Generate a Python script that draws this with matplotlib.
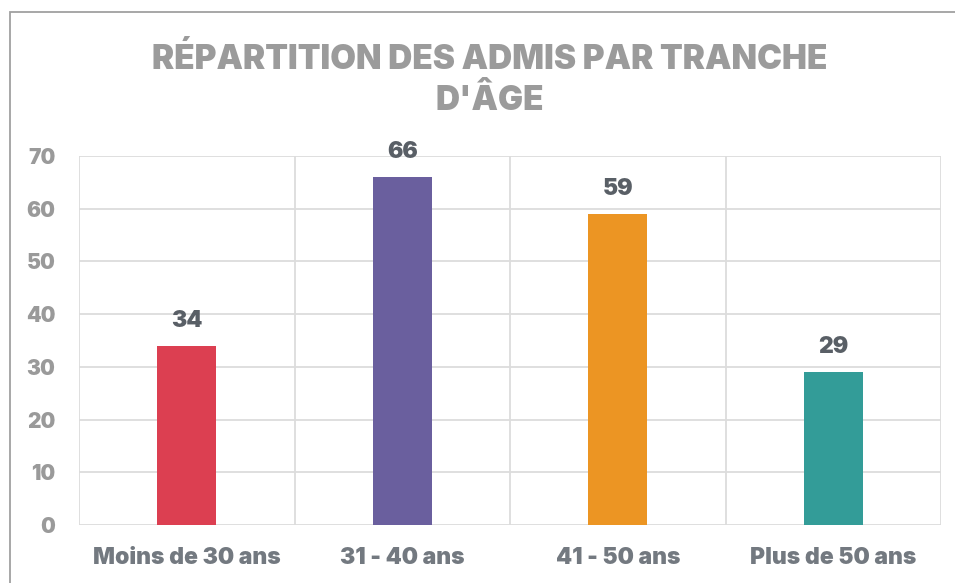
import matplotlib
matplotlib.use("Agg")
import matplotlib.pyplot as plt
from matplotlib.patches import Rectangle

categories = ["Moins de 30 ans", "31 - 40 ans", "41 - 50 ans", "Plus de 50 ans"]
values = [34, 66, 59, 29]
colors = ["#DC3F51", "#6A5F9E", "#EC9523", "#339C98"]
yticks = [0, 10, 20, 30, 40, 50, 60, 70]
title = "RÉPARTITION DES ADMIS PAR TRANCHE\nD'ÂGE"

plt.rcParams['font.family'] = ['Inter', 'DejaVu Sans']
WEIGHT = 900

W, H = 955, 583
fig = plt.figure(figsize=(W / 100, H / 100), dpi=100)
fig.patch.set_facecolor("white")

# outer border
fig.add_artist(Rectangle((10 / W, -0.1), 1.2, 1.1 - 12 / H, transform=fig.transFigure,
                         fill=False, edgecolor="#A0A0A0", linewidth=1.3))

ax = fig.add_axes([79 / W, 1 - 525 / H, (941 - 79) / W, (525 - 156) / H])
n = len(categories)
x = list(range(n))
ax.bar(x, values, width=0.274, color=colors, zorder=3)
ax.set_xlim(-0.5, n - 0.5)
ax.set_ylim(0, 70)

for s in ax.spines.values():
    s.set_visible(False)

gc = "#DCDCDC"
for yv in yticks:
    ax.axhline(yv, color=gc, lw=1.3, zorder=1)
for i in range(n + 1):
    ax.axvline(i - 0.5, color=gc, lw=1.3, zorder=1)

ax.set_yticks(yticks)
ax.set_yticklabels([str(v) for v in yticks], fontsize=15, fontweight=WEIGHT, color="#9A9A9A")
ax.set_xticks(x)
ax.set_xticklabels(categories, fontsize=16.5, fontweight=WEIGHT, color="#737980")
ax.tick_params(axis="y", length=0, pad=17)
ax.tick_params(axis="x", length=0, pad=16)

for xi, v in zip(x, values):
    ax.annotate(str(v), (xi, v), xytext=(0, 10), textcoords="offset points",
                ha="center", va="bottom", fontsize=16.5, fontweight=WEIGHT, color="#595F66")

fig.text(490 / W, 1 - 80 / H, title, ha="center", va="center", fontsize=24,
         fontweight=WEIGHT, color="#9B9B9B", linespacing=1.3)

fig.savefig("out.png", dpi=100, facecolor="white")
